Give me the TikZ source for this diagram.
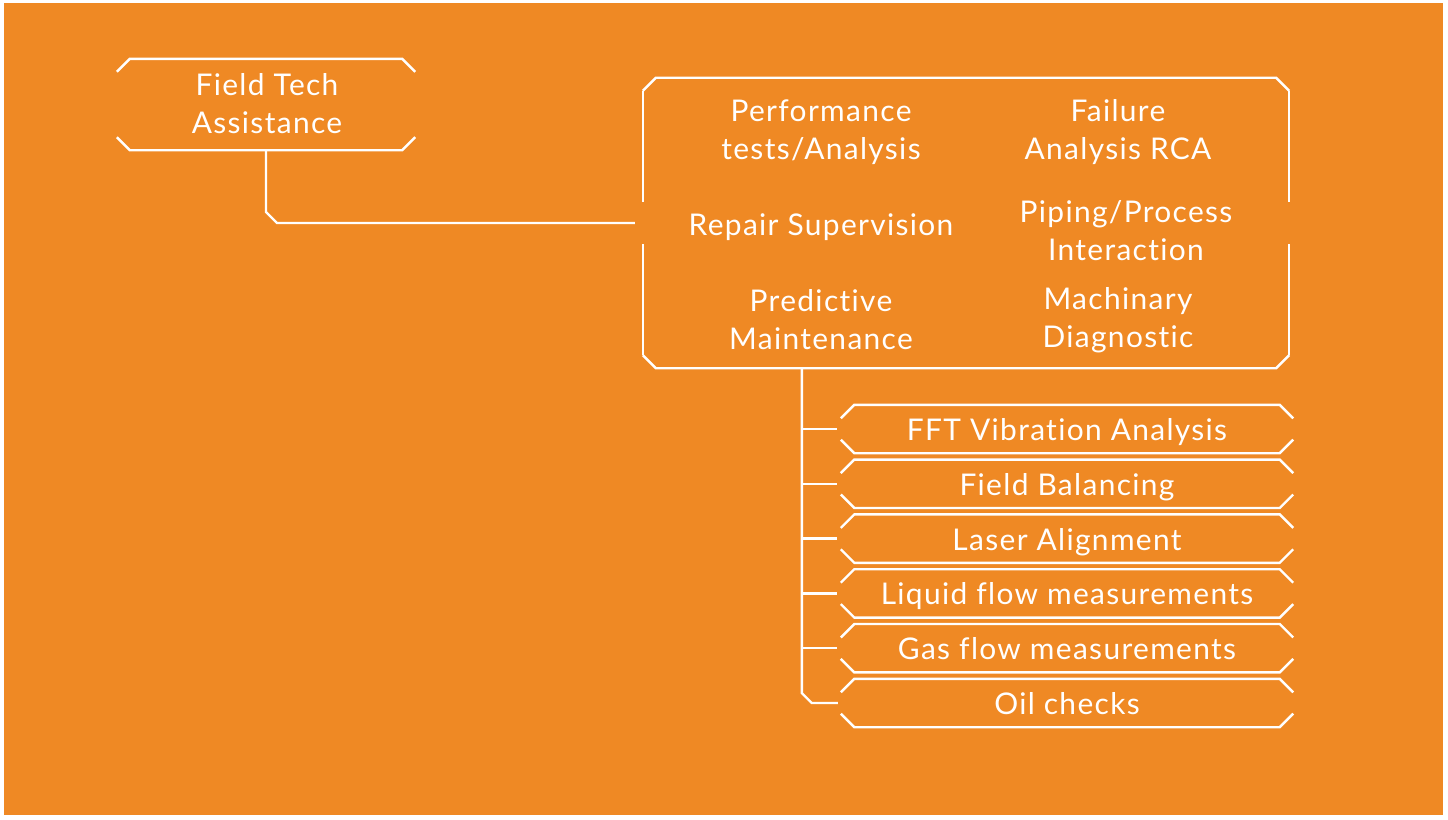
\documentclass[tikz,border=0pt]{standalone}
\usepackage{fontspec}
\setmainfont{Lato}[Ligatures=NoCommon, LetterSpace=4.5]
\usetikzlibrary{calc}
\definecolor{bgorange}{RGB}{239,137,36}
\tikzset{
  box/.style={draw=none, inner sep=0pt, text=white, align=center, font=\fontsize{30}{38}\selectfont},
  wire/.style={draw=white, line width=2.4bp, line cap=butt, line join=miter},
}
% bracket top/bottom: #1 node, #2 chamfer
\newcommand{\brackettb}[2]{%
  \draw[wire] ($(#1.north west)+(0,#2)$) -- ($(#1.north west)+(#2,0)$) -- ($(#1.north east)+(-#2,0)$) -- ($(#1.north east)+(0,#2)$);
  \draw[wire] ($(#1.south west)+(0,-#2)$) -- ($(#1.south west)+(#2,0)$) -- ($(#1.south east)+(-#2,0)$) -- ($(#1.south east)+(0,-#2)$);
}
\begin{document}
\begin{tikzpicture}[x=1bp,y=-1bp]
\useasboundingbox (0,0) rectangle (1448,819);
\fill[white] (0,0) rectangle (1448,819);
\fill[bgorange] (4,3) rectangle (1443,815);

% Field Tech box
\node[box, minimum width=298bp, minimum height=91bp] (fta) at (266,104.5) {};
\node[box] (ftatext) at ($(fta.center)+(1,-0.5)$) {Field Tech\\Assistance};
\brackettb{fta}{13}

% Big box
\node[box, minimum width=646bp, minimum height=290bp] (big) at (966,223) {};
\brackettb{big}{13}
\draw[wire] ($(big.north west)+(0,13)$) -- ($(big.west)+(0,-21)$);
\draw[wire] ($(big.west)+(0,21)$) -- ($(big.south west)+(0,-13)$);
\draw[wire] ($(big.north east)+(0,13)$) -- ($(big.east)+(0,-21)$);
\draw[wire] ($(big.east)+(0,21)$) -- ($(big.south east)+(0,-13)$);

\node[box] (perf) at (821,132) {Performance\\tests/Analysis};
\node[box] (fail) at (1118,132) {Failure\\Analysis RCA};
\node[box] (repair) at (821,227) {Repair Supervision};
\node[box] (piping) at (1126,231) {Piping/Process\\Interaction};
\node[box] (pred) at (821,320) {Predictive\\Maintenance};
\node[box] (mach) at (1118,320) {Machinary\\Diagnostic};

% connector Field Tech -> big box
\draw[wire] (fta.south) -- ($(fta.south |- big.west)+(0,-11)$) -- ($(fta.south |- big.west)+(11,0)$) -- ($(big.west)+(-8,0)$);

% small boxes
\foreach \i/\name/\txt in {0/s1/FFT Vibration Analysis,1/s2/Field Balancing,2/s3/Laser Alignment,3/s4/Liquid flow measurements,4/s5/Gas flow measurements,5/s6/Oil checks}{
  \node[box, minimum width=452bp, minimum height=48bp] (\name) at (1067,429+54.8*\i) {};
  \node[box, anchor=base] at ($(\name.center)+(0,11.5)$) {\txt};
  \brackettb{\name}{13.5}
}

% trunk
\coordinate (trunk) at ($(big.south west)+(159,0)$);
\draw[wire] (trunk) -- ($(trunk |- s6.west)+(0,-10)$) -- ($(trunk |- s6.west)+(10,0)$) -- ($(s6.west)+(-3,0)$);
\foreach \name in {s1,s2,s3,s4,s5}{
  \draw[wire] (trunk |- \name.west) -- ($(\name.west)+(-4,0)$);
}
\end{tikzpicture}
\end{document}
